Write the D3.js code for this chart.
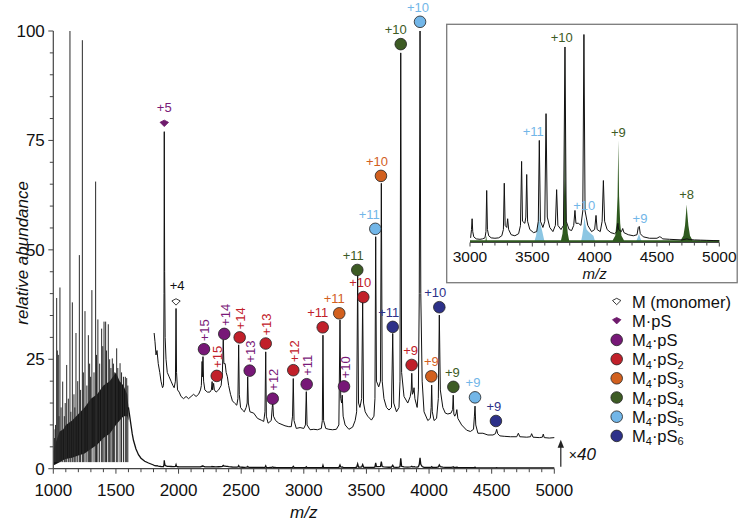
<!DOCTYPE html>
<html><head><meta charset="utf-8">
<script src="https://cdn.jsdelivr.net/npm/d3@7"></script>
<style>
body{margin:0;background:#fff;}
svg{display:block;font-family:"Liberation Sans",Arial,Helvetica,sans-serif;}
</style></head><body>
<svg id="c" width="739" height="524"></svg>
<script>
// ---------------- DATA ----------------
const xTicks = [1000,1500,2000,2500,3000,3500,4000,4500,5000];
const yTicks = [0,25,50,75,100];
const insetTicks = [3000,3500,4000,4500,5000];

// dense noisy region of the unscaled spectrum: [m/z, lower edge, upper edge]
const noiseBand = [
 [1003,0.8,4],[1020,1,6],[1050,1.5,8.5],[1080,2,9],[1100,2.2,10],[1150,2.5,11],
 [1200,3,12.5],[1250,3.5,14],[1300,4.5,16],[1350,5.5,17],[1400,7,19],[1450,8,20],
 [1500,10,22],[1530,11,20],[1560,12,19],[1590,12,17],[1600,11,14]
];
// spikes rising out of the dense region: [m/z, height]
const lowSpikes = [
 [1010,7],[1014,9],[1018,10],[1027,39],[1032,27],[1040,26],[1046,12],[1053,41.4],[1062,14],
 [1075,19.9],[1088,12],[1095,15],[1107,23.7],[1120,16],[1133,100],[1140,13],[1152,38],
 [1165,17],[1172,14],[1181,31],[1195,20],[1208,48.8],[1218,18],[1232,97.9],[1240,22],
 [1253,36],[1268,19],[1280,30.5],[1290,24],[1298,21],[1308,40.8],[1325,22],[1338,65.6],
 [1345,26],[1356,34.1],[1370,24],[1386,32],[1395,28],[1405,33.6],[1418,33.6],[1425,27],
 [1439,33],[1450,25],[1460,23],[1471,25.2],[1480,24],[1490,22],[1506,27.5],[1515,23],
 [1533,24.1],[1545,22],[1560,21],[1575,21],[1586,20.7],[1595,19]
];
// unscaled trace where it falls off after the dense region: [m/z, value]
const lowDecay = [
 [1600,14],[1610,12],[1620,10],[1630,8],[1640,6.5],[1660,4.5],[1680,3.2],[1700,2.4],
 [1730,1.7],[1760,1.3],[1800,0.85]
];
const magnification = 40;
// the x40 magnified trace: [m/z, value]
const zoomedTrace = [
 [1805,31],[1812,29],[1820,26],[1828,27],[1838,24],[1850,22],[1860,20],[1872,18.5],[1880,19],
 [1884,40],[1886,77],[1889,45],[1893,30],[1900,25],[1910,22],[1925,21],[1940,20],[1955,19],
 [1965,18.5],[1975,20],[1980,36.6],[1984,22],[1992,18],[2005,17.5],[2020,16.5],[2040,16],
 [2060,16.5],[2080,16],[2100,16.5],[2120,17],[2140,16.5],[2160,17],[2175,18],[2182,19],
 [2188,24.5],[2191,21],[2195,25.6],[2200,20],[2210,18],[2230,17.5],[2250,17.5],[2262,18],
 [2268,19.9],[2272,18],[2280,19.5],[2286,18],[2300,17.5],[2320,18],[2340,19],[2350,22],
 [2357,29.4],[2362,24],[2372,24],[2380,22],[2390,21],[2400,19],[2415,17],[2430,15.5],
 [2450,14.9],[2465,14.5],[2474,16],[2480,28.3],[2485,17],[2495,14],[2510,13.4],[2525,13],
 [2540,14],[2548,15],[2552,21],[2557,15],[2570,13],[2600,12.7],[2630,11.5],[2660,11.1],
 [2680,10.8],[2690,13],[2696,26.7],[2701,12],[2715,10.4],[2740,11],[2748,14],[2752,15.3],
 [2758,12],[2775,11],[2800,10.4],[2850,9.8],[2880,9.6],[2900,9.6],[2910,12],[2916,20.6],
 [2922,11],[2940,9.2],[2970,9.4],[3000,9.2],[3013,10],[3020,17.6],[3026,10],[3050,8.9],
 [3080,9],[3110,8.9],[3140,9.2],[3148,11],[3153,30.5],[3158,11],[3175,9.2],[3200,9],
 [3230,8.9],[3260,9],[3280,10],[3289,34],[3295,16],[3302,15],[3307,16.8],[3314,12],
 [3330,10],[3360,9],[3390,9.5],[3410,11],[3422,13],[3430,44.3],[3437,15],[3448,14],
 [3462,16],[3470,38.5],[3477,15],[3490,13],[3510,12],[3540,11.1],[3560,12],[3568,16],
 [3574,53],[3580,20],[3598,18.7],[3612,20],[3619,65.2],[3626,20],[3640,16],[3660,14],
 [3680,13.4],[3700,14],[3710,30.9],[3718,15],[3740,13],[3760,14],[3768,20],[3774,95],
 [3781,22],[3800,16.5],[3830,15],[3850,16.5],[3858,18],[3862,21.8],[3867,17],[3875,17.5],
 [3880,18.5],[3887,16],[3905,14],[3915,18],[3922,40],[3928,100],[3934,40],[3945,20],
 [3960,13],[3990,11],[4010,11.5],[4017,14],[4021,19.1],[4026,13],[4040,11],[4060,11.5],
 [4074,16],[4082,35.1],[4090,18],[4110,14],[4130,12.7],[4150,12.5],[4175,12.7],[4188,13.5],
 [4193,16.8],[4198,12.5],[4205,12],[4215,12.5],[4222,13.5],[4230,11.5],[4260,10],[4300,8.8],
 [4330,8.5],[4355,9],[4362,12],[4367,14.3],[4373,10],[4390,8.1],[4430,8.1],[4470,7.7],
 [4510,7.7],[4530,8],[4540,9],[4548,8],[4565,7.5],[4600,7.4],[4650,7.3],[4700,7.3],
 [4713,8.1],[4725,7.3],[4780,7.2],[4810,7.3],[4819,8],[4830,7.2],[4880,7.1],[4905,7.2],
 [4912,7.9],[4920,7.1],[4960,7],[5000,7.1]
];

// species (legend order)
const speciesNames = [["M (monomer)"],["M·pS"],["M","4","·pS"],["M","4","·pS","2"],["M","4","·pS","3"],
                      ["M","4","·pS","4"],["M","4","·pS","5"],["M","4","·pS","6"]];
const speciesColors = ["#ffffff","#6e1a6c","#771877","#c1202a","#d2601e","#3d5b24","#72b6e8","#2d3189"];
const labelColors   = ["#111111","#7a1a78","#7a1a78","#c1202a","#d2601e","#3d5b24","#72b6e8","#2d3189"];
const speciesShape  = ["gem","gem","circle","circle","circle","circle","circle","circle"];

// annotations: [species index, charge label, m/z, marker level, rotated label?, label dx]
const annotations = [
 [1,"+5",1886,78.9,false,0],
 [0,"+4",1980,38.1,false,1],
 [2,"+15",2203,27.3,true,1],
 [3,"+15",2305,21.2,true,1],
 [2,"+14",2365,30.8,true,1],
 [3,"+14",2488,30.0,true,1],
 [2,"+13",2568,22.4,true,1],
 [3,"+13",2696,28.6,true,1],
 [2,"+12",2752,16.0,true,1],
 [3,"+12",2916,22.5,true,1],
 [2,"+11",3023,19.3,true,1],
 [3,"+11",3151,32.3,false,-5],
 [4,"+11",3283,35.5,false,-5],
 [2,"+10",3321,18.8,true,1],
 [5,"+11",3427,45.4,false,-4],
 [3,"+10",3475,39.2,false,-3],
 [6,"+11",3571,54.8,false,-6],
 [4,"+10",3616,66.9,false,-4],
 [7,"+11",3710,32.4,false,-4],
 [5,"+10",3774,97.0,false,-5],
 [3,"+9",3861,23.7,false,-1],
 [6,"+10",3928,102.1,false,-2],
 [4,"+9",4018,21.1,false,0],
 [7,"+10",4082,36.9,false,-4],
 [5,"+9",4194,18.7,false,-1],
 [6,"+9",4367,16.3,false,-2],
 [7,"+9",4534,10.9,false,-2]
];

// inset: measured trace 3000-5000 [m/z, value]
const insetTrace = [
 [3005,2],[3012,6],[3017,11.2],[3022,5],[3030,2.5],[3050,1.5],[3080,1.3],[3100,1.5],[3120,2],
 [3128,5],[3134,24.8],[3140,6],[3150,3],[3170,2],[3200,1.8],[3230,2],[3255,3],[3268,6],
 [3275,28.3],[3282,8],[3295,7],[3302,11.2],[3310,6],[3330,3.5],[3360,3],[3390,4],[3405,8],
 [3414,38.8],[3421,10],[3440,9],[3448,12],[3455,32.5],[3462,10],[3480,6],[3510,4.5],
 [3535,5],[3548,10],[3556,48.9],[3565,10],[3585,7],[3600,10],[3610,61.8],[3620,12],
 [3640,7],[3665,5],[3685,8],[3695,25.2],[3705,8],[3730,6],[3750,8],[3762,93.9],[3772,10],
 [3795,6],[3815,5.5],[3832,8],[3842,15.2],[3850,9],[3870,9],[3890,8],[3905,15],[3914,99.9],
 [3923,15],[3945,8],[3975,5],[4000,6],[4011,12.8],[4020,6],[4045,5],[4060,10],[4070,29.6],
 [4080,10],[4100,6],[4130,4.5],[4160,4],[4178,5],[4186,9],[4192,6],[4215,5],[4225,6.5],
 [4235,4.5],[4270,3.5],[4310,3],[4340,3.5],[4350,7],[4358,7.5],[4366,4],[4390,2.5],
 [4440,1.8],[4500,1.8],[4520,2.5],[4530,2.4],[4545,1.5],[4600,1.3],[4700,1],[4740,1.5],
 [4760,1.2],[4800,1],[4850,0.9],[4900,0.8],[4950,0.7],[5000,0.6]
];
// inset: simulated M4·pS4 (green) and M4·pS5 (blue) distributions
const simPS4 = [
 [3000,0.8],[3125,0.8],[3130,3],[3134,0.8],[3730,0.8],[3742,4],[3750,10],[3757,30],[3762,94],
 [3767,30],[3775,10],[3785,4],[3795,0.8],[4145,0.8],[4165,3],[4175,9],[4184,22],[4190,49],
 [4196,22],[4205,9],[4215,3],[4235,0.8],[4690,0.8],[4712,3],[4725,8],[4733,14],[4738,18],
 [4743,14],[4752,8],[4765,3],[4785,0.8],[5000,0.8]
];
const simPS5 = [
 [3000,0],[3515,0],[3530,3],[3540,7],[3550,10],[3553,17],[3558,10],[3568,8],[3580,5],[3595,1],
 [3605,0],[3890,0],[3900,3],[3910,7],[3918,12],[3925,9],[3935,6],[3950,5],[3970,4],[3990,3],
 [4005,0],[4330,0],[4345,2],[4356,4],[4365,2],[4380,0],[5000,0]
];
// inset labels: [species index, charge, m/z, level]
const insetLabels = [
 [5,"+10",3736,98.6],[5,"+9",4190,52.6],[5,"+8",4738,23.1],
 [6,"+11",3508,53.4],[6,"+10",3917,17.5],[6,"+9",4364,11.1]
];

// ---------------- DRAW ----------------
const svg = d3.select("#c");
const x = d3.scaleLinear().domain([1000,5000]).range([53.3,554.3]);
const y = d3.scaleLinear().domain([0,100]).range([468.7,31]);
const axisColor = "#444";

// noise band
svg.append("path").datum(noiseBand)
  .attr("d", d3.area().x(d=>x(d[0])).y0(d=>y(d[1])).y1(d=>y(d[2])))
  .attr("fill","#111");
// spikes
svg.append("g").selectAll("line").data(lowSpikes).join("line")
  .attr("x1",d=>x(d[0])).attr("x2",d=>x(d[0]))
  .attr("y1",y(1.5)).attr("y2",d=>y(d[1]))
  .attr("stroke","#2a2a2a").attr("stroke-width",1);
// lower (unscaled) continuous trace
const lowTrace = lowDecay.concat(zoomedTrace.map(d=>[d[0], d[1]/magnification]));
const line = d3.line().x(d=>x(d[0])).y(d=>y(d[1]));
svg.append("path").datum(lowTrace).attr("d",line)
  .attr("fill","none").attr("stroke","#111").attr("stroke-width",1.3);
// magnified trace
svg.append("path").datum(zoomedTrace).attr("d",line)
  .attr("fill","none").attr("stroke","#111").attr("stroke-width",1).attr("stroke-linejoin","round");

// axes
const xAxis = svg.append("g").attr("transform",`translate(0,${y(0)})`);
xAxis.append("line").attr("x1",x(1000)).attr("x2",x(5000)).attr("stroke",axisColor).attr("stroke-width",1.2);
xAxis.selectAll(".mn").data(d3.range(1000,5001,100)).join("line")
  .attr("x1",d=>x(d)).attr("x2",d=>x(d)).attr("y1",0).attr("y2",d=>d%500===0?5:3.5)
  .attr("stroke",axisColor).attr("stroke-width",1);
xAxis.selectAll("text").data(xTicks).join("text")
  .attr("x",d=>x(d)).attr("y",27).attr("text-anchor","middle")
  .attr("font-size",17).attr("fill","#111").text(d=>d);
svg.append("text").attr("x",(x(1000)+x(5000))/2).attr("y",518).attr("text-anchor","middle")
  .attr("font-size",17).attr("font-style","italic").attr("fill","#111").text("m/z");

const yAxis = svg.append("g").attr("transform",`translate(${x(1000)},0)`);
yAxis.append("line").attr("y1",y(0)).attr("y2",y(100)).attr("stroke",axisColor).attr("stroke-width",1.2);
yAxis.selectAll(".mn").data(d3.range(0,101,5)).join("line")
  .attr("y1",d=>y(d)).attr("y2",d=>y(d)).attr("x1",0).attr("x2",d=>d%25===0?-5:-3.5)
  .attr("stroke",axisColor).attr("stroke-width",1);
yAxis.selectAll("text").data(yTicks).join("text")
  .attr("x",-8.5).attr("y",d=>y(d)+6).attr("text-anchor","end")
  .attr("font-size",17).attr("fill","#111").text(d=>d);
svg.append("text").attr("transform",`translate(28,${(y(0)+y(100))/2+3}) rotate(-90)`)
  .attr("text-anchor","middle").attr("font-size",17).attr("font-style","italic").attr("fill","#111")
  .text("relative abundance");

// x40 arrow
const ax = x(5000)+6.5;
svg.append("line").attr("x1",ax).attr("x2",ax).attr("y1",y(0)-2).attr("y2",y(0)-22)
  .attr("stroke","#222").attr("stroke-width",1.2);
svg.append("path").attr("d",`M${ax-3.2},${y(0)-21}L${ax},${y(0)-29}L${ax+3.2},${y(0)-21}Z`).attr("fill","#222");
const xt = svg.append("text").attr("x",ax+8).attr("y",y(0)-9).attr("fill","#111");
xt.append("tspan").attr("font-size",14).text("×");
xt.append("tspan").attr("font-size",17).attr("font-style","italic").text("40");

// markers
const gemPath = "M-4.2,-1 L0,-3.2 L4.2,-1 L0,3.2 Z";
function drawMarker(g, idx, cx, cy){
  if(speciesShape[idx]==="gem"){
    g.append("path").attr("d",gemPath).attr("transform",`translate(${cx},${cy})`)
      .attr("fill",speciesColors[idx]).attr("stroke", idx===0?"#222":speciesColors[idx]).attr("stroke-width",0.9);
  } else {
    g.append("circle").attr("cx",cx).attr("cy",cy).attr("r",5.8)
      .attr("fill",speciesColors[idx]).attr("stroke","#222").attr("stroke-width",0.8);
  }
}
const ann = svg.append("g");
annotations.forEach(a=>{
  const [idx, lab, mz, lv, rot, dx] = a;
  const cx = x(mz), cy = y(lv);
  drawMarker(ann, idx, cx, cy);
  if(rot){
    ann.append("text").attr("transform",`translate(${cx+dx+4.5},${cy-19}) rotate(-90)`)
      .attr("text-anchor","middle").attr("font-size",13).attr("fill",labelColors[idx]).text(lab);
  } else {
    const off = speciesShape[idx]==="gem" ? 11.5 : 10;
    ann.append("text").attr("x",cx+dx).attr("y",cy-off).attr("text-anchor","middle")
      .attr("font-size",13).attr("fill",labelColors[idx]).text(lab);
  }
});

// legend
const lg = svg.append("g");
speciesNames.forEach((parts,i)=>{
  const ry = 301.5 + i*19.2;
  drawMarker(lg, i, 616.7, ry);
  const t = lg.append("text").attr("x",632).attr("y",ry+6).attr("font-size",16.5).attr("fill","#111");
  parts.forEach((p,j)=>{
    const sub = parts.length>1 && (j===1 || j===3);
    const ts = t.append("tspan").text(p);
    if(sub) ts.attr("font-size",11).attr("dy",3.5);
    else if(j>0 && parts.length>1) ts.attr("dy",-3.5);
  });
});

// ---------------- INSET ----------------
const ix = d3.scaleLinear().domain([3000,5000]).range([470,719.3]);
const iy = d3.scaleLinear().domain([0,100]).range([242,34.3]);
const ins = svg.append("g");
ins.append("rect").attr("x",446.7).attr("y",24.3).attr("width",290.5).attr("height",258.4)
  .attr("fill","#fff").attr("stroke","#7a7a7a").attr("stroke-width",1.3);
const iarea = d3.area().x(d=>ix(d[0])).y0(iy(0)).y1(d=>iy(d[1]));
ins.append("path").datum(simPS5).attr("d",iarea).attr("fill","#8cc6e3");
ins.append("path").datum(simPS4).attr("d",iarea).attr("fill","#2f5a1f");
ins.append("path").datum(insetTrace).attr("d",d3.line().x(d=>ix(d[0])).y(d=>iy(d[1])))
  .attr("fill","none").attr("stroke","#111").attr("stroke-width",1);
const iax = ins.append("g").attr("transform",`translate(0,${iy(0)+0.5})`);
iax.append("line").attr("x1",ix(3000)).attr("x2",ix(5000)).attr("stroke",axisColor).attr("stroke-width",1);
iax.selectAll(".mn").data(d3.range(3000,5001,100)).join("line")
  .attr("x1",d=>ix(d)).attr("x2",d=>ix(d)).attr("y1",0).attr("y2",d=>d%500===0?4:3)
  .attr("stroke",axisColor).attr("stroke-width",1);
iax.selectAll("text").data(insetTicks).join("text")
  .attr("x",d=>ix(d)).attr("y",19.5).attr("text-anchor","middle")
  .attr("font-size",15.5).attr("fill","#111").text(d=>d);
ins.append("text").attr("x",(ix(3000)+ix(5000))/2).attr("y",278.5).attr("text-anchor","middle")
  .attr("font-size",15).attr("font-style","italic").attr("fill","#111").text("m/z");
insetLabels.forEach(l=>{
  ins.append("text").attr("x",ix(l[2])).attr("y",iy(l[3])+4.5).attr("text-anchor","middle")
    .attr("font-size",13).attr("fill",labelColors[l[0]]).text(l[1]);
});
</script>
</body></html>
